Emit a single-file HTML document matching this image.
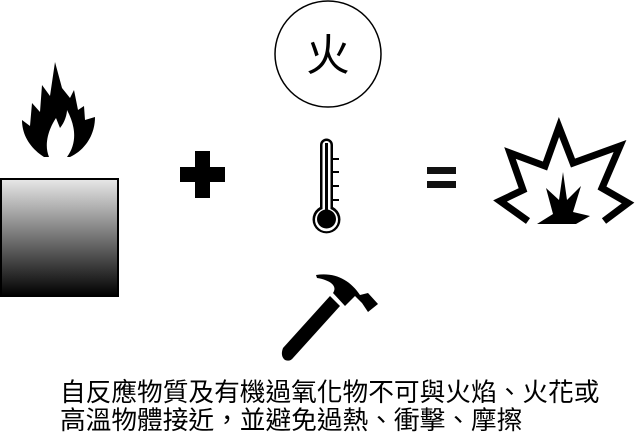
<!DOCTYPE html>
<html><head><meta charset="utf-8"><style>
html,body{margin:0;padding:0;background:#fff;}
svg{display:block;}
</style></head><body>
<svg width="639" height="439" viewBox="0 0 639 439" xmlns="http://www.w3.org/2000/svg">
<defs>
<linearGradient id="g" x1="0" y1="0" x2="0" y2="1">
<stop offset="0" stop-color="#e8e8e8"/><stop offset="1" stop-color="#000"/>
</linearGradient>
</defs>
<rect x="1" y="179" width="117" height="117" fill="url(#g)" stroke="#000" stroke-width="2"/>
<path d="M44,157 C30,148 22,135 22,120 L30,126 L32,103 L40,112 L42,85 L50,96 L55,62 L62,88 L70,98 L74,90 L78,110 L84,106 L85,120 L95,117 C95,135 85,150 70,157 Z" fill="#000"/>
<path d="M49,157 C44,145 48,130 56,118 L60,128 C65,122 67,114 67,110 C75,125 78,142 67,157 Z" fill="#fff"/>
<rect x="180" y="167" width="45" height="15" fill="#000"/>
<rect x="195" y="151" width="15" height="47" fill="#000"/>
<ellipse cx="328" cy="54" rx="53" ry="53" fill="none" stroke="#000" stroke-width="1.5"/>
<text x="328" y="70" font-size="44" text-anchor="middle" font-family="'Liberation Sans','Noto Sans CJK TC',sans-serif">火</text>
<path d="M320,145 A6.5,6.5 0 0 1 333,145 L333,207 A14,14 0 1 1 320,207 Z" fill="#000"/>
<path d="M322.5,145 A4,4 0 0 1 330.5,145 L330.5,209 A11.5,11.5 0 1 1 322.5,209 Z" fill="#fff"/>
<rect x="325" y="143" width="3" height="70" fill="#000"/>
<circle cx="326.5" cy="219" r="9.5" fill="#000"/>
<g stroke="#000" stroke-width="2"><line x1="333" y1="159" x2="339" y2="159"/><line x1="333" y1="172" x2="339" y2="172"/><line x1="333" y1="186" x2="339" y2="186"/><line x1="333" y1="200" x2="339" y2="200"/></g>
<rect x="427" y="167" width="29" height="7" fill="#111"/>
<rect x="427" y="181" width="29" height="7" fill="#111"/>
<path d="M528,221 L500,201 L523,190 L510,153 L545,166 L559,127 L573,163 L620,146 L602,188 L628,203 L604,221" fill="none" stroke="#000" stroke-width="7" stroke-linejoin="miter"/>
<path d="M537,224 L553,214 L546,188 L559,200 L563,172 L567,200 L581,186 L573,212 L590,216 L576,224 Z" fill="#000"/>
<path d="M293,358 L340,306 L330,296 L283,348 Q280,356 285,360 Q290,362 293,358 Z" fill="#000"/>
<path d="M333,293 L345,306 L355,296 L362,303 L368,312 L378,304 L368,293 L360,295 C350,280 335,272 316,275 L317,278 C330,280 338,286 333,293 Z" fill="#000"/>
<g font-family="'Liberation Sans','Noto Sans CJK TC',sans-serif" font-size="25.7" fill="#000">
<text x="60" y="401">自反應物質及有機過氧化物不可與火焰、火花或</text>
<text x="60" y="429">高溫物體接近，並避免過熱、衝擊、摩擦</text>
</g>
</svg>
</body></html>
